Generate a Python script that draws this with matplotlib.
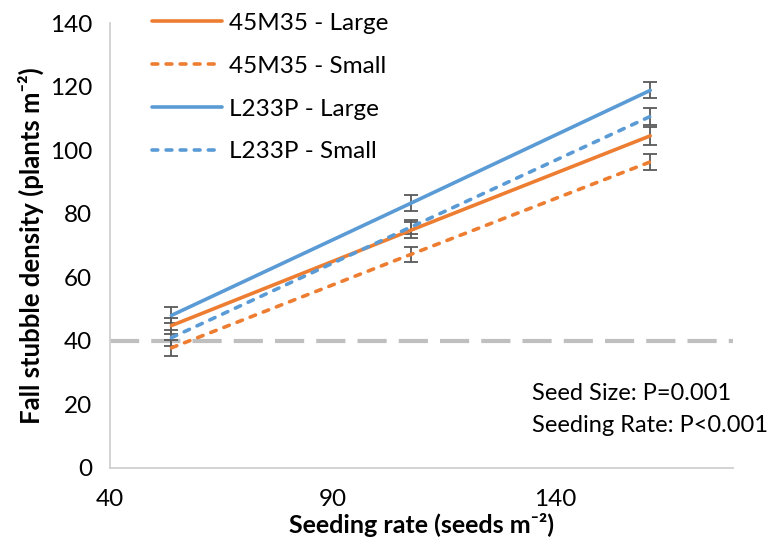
import matplotlib
matplotlib.use("Agg")
import matplotlib.pyplot as plt
import numpy as np

seeding_rate = [53.8, 107.6, 161.4]
series_names = ["45M35 - Large", "45M35 - Small", "L233P - Large", "L233P - Small"]
m45_large = [44.8, 74.8, 104.5]
m45_small = [37.8, 67.2, 96.3]
l233_large = [48.0, 83.3, 118.8]
l233_small = [41.0, 75.8, 110.6]
err_m45_large = [2.5, 2.5, 2.8]
err_m45_small = [2.5, 2.3, 2.5]
err_l233_large = [2.5, 2.5, 2.5]
err_l233_small = [2.5, 2.3, 2.8]
x_ticks = [40, 90, 140]
y_ticks = [0, 20, 40, 60, 80, 100, 120, 140]
threshold = 40

plt.rcParams['font.family'] = ['Lato', 'DejaVu Sans']

fig = plt.figure(figsize=(7.74, 5.44), dpi=100)
ax = fig.add_axes([110/774, 76/544, (733-110)/774, (468-23)/544])

orange = "#ED7D31"
blue = "#5B9BD5"
errc = "#595959"

ax.axhline(threshold, color="#BFBFBF", lw=3, dashes=(7, 2.9), zorder=1)

data = [
    (m45_large, err_m45_large, orange, "-"),
    (m45_small, err_m45_small, orange, "--"),
    (l233_large, err_l233_large, blue, "-"),
    (l233_small, err_l233_small, blue, "--"),
]
handles = []
for (vals, errs, col, ls), name in zip(data, series_names):
    ax.errorbar(seeding_rate, vals, yerr=errs, fmt="none", ecolor=errc,
                elinewidth=1.3, capsize=5, capthick=1.3, zorder=2)
    if ls == "-":
        h, = ax.plot(seeding_rate, vals, color=col, lw=2.6, solid_capstyle="round", zorder=3, label=name)
    else:
        h, = ax.plot(seeding_rate, vals, color=col, lw=2.6, dashes=(1.6, 2.3),
                     dash_capstyle="round", zorder=3, label=name)
    handles.append(h)

ax.set_xlim(40, 180)
ax.set_ylim(0, 140)
ax.set_xticks(x_ticks)
ax.set_yticks(y_ticks)
ax.tick_params(length=0, labelsize=17.5, colors="#000000")
ax.tick_params(axis="x", pad=15)
ax.tick_params(axis="y", pad=13)
for s in ["top", "right"]:
    ax.spines[s].set_visible(False)
for s in ["left", "bottom"]:
    ax.spines[s].set_color("#D0D0D0")
    ax.spines[s].set_linewidth(1.3)

ax.set_xlabel("Seeding rate (seeds m\u207b\u00b2)", fontsize=18, fontweight="bold")
ax.xaxis.set_label_coords(0.5, (468 - 513) / 445)
ax.set_ylabel("Fall stubble density (plants m\u207b\u00b2)", fontsize=18.5, fontweight="bold", labelpad=4)

fig.legend(handles=handles, loc="upper left", bbox_to_anchor=(142/774, 1.0 - 3/544),
           frameon=False, fontsize=17.5, handlelength=2.9, handletextpad=0.28,
           labelspacing=0.9, borderaxespad=0)

fig.text(532/774, 1 - 393/544, "Seed Size: P=0.001", fontsize=17, va="center", ha="left")
fig.text(532/774, 1 - 425/544, "Seeding Rate: P<0.001", fontsize=17, va="center", ha="left")

fig.savefig("out.png", dpi=100)
